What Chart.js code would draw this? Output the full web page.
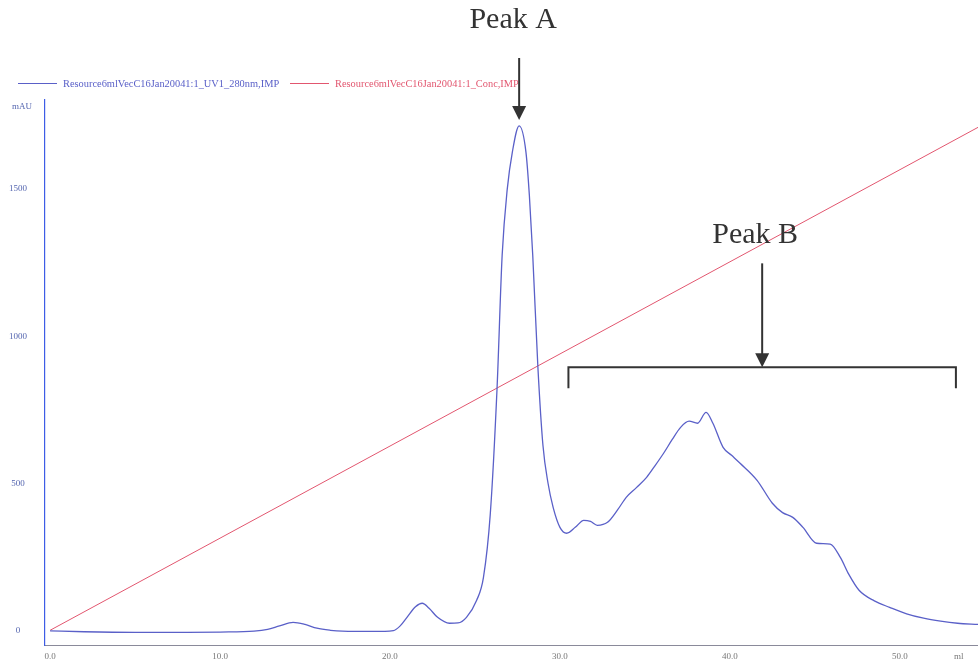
<!DOCTYPE html>
<html>
<head>
<meta charset="utf-8">
<script src="https://cdn.jsdelivr.net/npm/chart.js@4.4.1/dist/chart.umd.min.js"></script>
<style>
  html, body { margin: 0; padding: 0; background: #fff; }
  #wrap { width: 978px; height: 666px; position: relative; }
</style>
</head>
<body>
<div id="wrap"><canvas id="chart"></canvas></div>
<script>
// elution volume (ml) and UV absorbance (mAU)
const uvVolume = [0, 2, 5, 8, 10, 12, 12.8, 13.5, 14.3, 15.0, 15.7, 16.5, 17.2, 19, 20.2, 20.6, 21.0, 21.5, 21.9, 22.3,
  22.8, 23.5, 24.0, 24.5, 25.1, 25.5, 25.9, 26.3, 26.6, 26.9, 27.2, 27.6, 28.0, 28.2, 28.4, 28.7, 29.0, 29.3, 29.6, 30.0,
  30.4, 30.9, 31.4, 31.8, 32.2, 32.8, 33.4, 33.9, 34.5, 35.1, 35.6, 36.1, 36.6, 37.1, 37.6, 38.1, 38.6, 39.0, 39.6, 40.1,
  40.6, 41.6, 42.5, 43.1, 43.7, 44.3, 45.1, 45.9, 46.5, 47.0, 47.6, 48.5, 49.4, 50.4, 51.4, 52.4, 53.4, 54.6];
const uvMAU = [-2, -5, -7, -7, -6, -3, 3, 15, 27, 20, 7, 0, -3, -4, -1, 15, 44, 80, 92, 75,
  44, 24, 25, 44, 102, 180, 394, 823, 1275, 1500, 1626, 1715, 1626, 1480, 1275, 898, 629, 500, 418, 350,
  330, 350, 374, 370, 357, 367, 410, 452, 485, 520, 560, 602, 648, 690, 711, 704, 741, 704, 622, 595,
  568, 510, 432, 400, 384, 350, 296, 293, 248, 190, 136, 100, 78, 56, 41, 31, 24, 20];

// gradient line (drawn on the same axis)
const concVolume = [0, 54.6];
const concValue = [0, 1710];

const seriesLabels = ["Resource6mlVecC16Jan20041:1_UV1_280nm,IMP", "Resource6mlVecC16Jan20041:1_Conc,IMP"];
const xTickValues = [0, 10, 20, 30, 40, 50];
const yTickValues = [0, 500, 1000, 1500];

// annotations: Peak A arrow at apex, Peak B bracket over the broad peak
const peakA = { label: "Peak A", x: 27.6, y: 1715 };
const peakB = { label: "Peak B", x: 41.9, from: 30.5, to: 53.3, y: 894 };

const uvPoints = uvVolume.map((v, i) => ({ x: v, y: uvMAU[i] }));
const concPoints = concVolume.map((v, i) => ({ x: v, y: concValue[i] }));

const SERIF = "'Liberation Serif', 'DejaVu Serif', serif";

const overlay = {
  id: "overlay",
  afterDraw(chart) {
    const ctx = chart.ctx;
    const xs = chart.scales.x, ys = chart.scales.y;
    ctx.save();

    // legend
    const legendX = [18, 290];
    chart.data.datasets.forEach((ds, i) => {
      const x0 = legendX[i];
      ctx.strokeStyle = ds.borderColor;
      ctx.lineWidth = 1;
      ctx.beginPath();
      ctx.moveTo(x0, 83.5);
      ctx.lineTo(x0 + 39, 83.5);
      ctx.stroke();
      ctx.fillStyle = ds.borderColor;
      ctx.font = "10.4px " + SERIF;
      ctx.textBaseline = "middle";
      ctx.textAlign = "left";
      ctx.fillText(ds.label, x0 + 45, 84);
    });

    // axis units
    ctx.font = "9px " + SERIF;
    ctx.textBaseline = "middle";
    ctx.fillStyle = "#5566b0";
    ctx.textAlign = "left";
    ctx.fillText("mAU", 12, 107);
    ctx.fillStyle = "#777";
    ctx.fillText("ml", 954, 657);

    ctx.strokeStyle = "#333";
    ctx.fillStyle = "#333";
    ctx.lineWidth = 2;

    const arrow = (x, y1, y2) => {
      ctx.beginPath();
      ctx.moveTo(x, y1);
      ctx.lineTo(x, y2 - 12);
      ctx.stroke();
      ctx.beginPath();
      ctx.moveTo(x - 7, y2 - 14);
      ctx.lineTo(x + 7, y2 - 14);
      ctx.lineTo(x, y2);
      ctx.closePath();
      ctx.fill();
    };

    // Peak A
    const ax = xs.getPixelForValue(peakA.x);
    const ay = ys.getPixelForValue(peakA.y);
    ctx.font = "30px " + SERIF;
    ctx.textAlign = "center";
    ctx.textBaseline = "alphabetic";
    ctx.fillText(peakA.label, ax - 6, 28);
    arrow(ax, 58, ay - 6);

    // Peak B bracket
    const bx1 = xs.getPixelForValue(peakB.from);
    const bx2 = xs.getPixelForValue(peakB.to);
    const by = ys.getPixelForValue(peakB.y);
    ctx.beginPath();
    ctx.moveTo(bx1, by + 21);
    ctx.lineTo(bx1, by);
    ctx.lineTo(bx2, by);
    ctx.lineTo(bx2, by + 21);
    ctx.stroke();
    const bx = xs.getPixelForValue(peakB.x);
    arrow(bx, by - 104, by);
    ctx.fillText(peakB.label, bx - 7, by - 124);

    ctx.restore();
  }
};

new Chart(document.getElementById("chart"), {
  type: "line",
  data: {
    datasets: [
      {
        label: seriesLabels[0],
        data: uvPoints,
        borderColor: "#5a60c8",
        borderWidth: 1.3,
        pointRadius: 0,
        cubicInterpolationMode: "monotone",
        fill: false,
      },
      {
        label: seriesLabels[1],
        data: concPoints,
        borderColor: "#e2566f",
        borderWidth: 1,
        pointRadius: 0,
        fill: false,
      },
    ],
  },
  options: {
    responsive: true,
    maintainAspectRatio: false,
    animation: false,
    layout: { padding: { top: 100, right: 0, bottom: 0, left: 0 } },
    plugins: {
      legend: { display: false },
      tooltip: { enabled: false },
    },
    scales: {
      x: {
        type: "linear",
        min: -0.3,
        max: 54.6,
        afterBuildTicks: (scale) => { scale.ticks = xTickValues.map((v) => ({ value: v })); },
        afterFit: (scale) => { scale.height = 21; },
        grid: { display: true, drawOnChartArea: false, drawTicks: false, tickLength: 0 },
        border: { display: true, color: "#8a8a9a", width: 1 },
        ticks: {
          padding: 6,
          maxRotation: 0,
          color: "#777",
          font: { family: SERIF, size: 9 },
          callback: (v) => Number(v).toFixed(1),
        },
      },
      y: {
        type: "linear",
        min: -50,
        max: 1803,
        afterBuildTicks: (scale) => { scale.ticks = yTickValues.map((v) => ({ value: v })); },
        afterFit: (scale) => {
          scale.width = 45;
          scale.paddingTop = 0;
          scale.paddingBottom = 0;
        },
        grid: { display: true, drawOnChartArea: false, drawTicks: false, tickLength: 0 },
        border: { display: true, color: "#3d5ce6", width: 1.2 },
        ticks: {
          padding: 18,
          crossAlign: "center",
          color: "#5566b0",
          font: { family: SERIF, size: 9 },
          callback: (v) => String(v),
        },
      },
    },
  },
  plugins: [overlay],
});
</script>
</body>
</html>
